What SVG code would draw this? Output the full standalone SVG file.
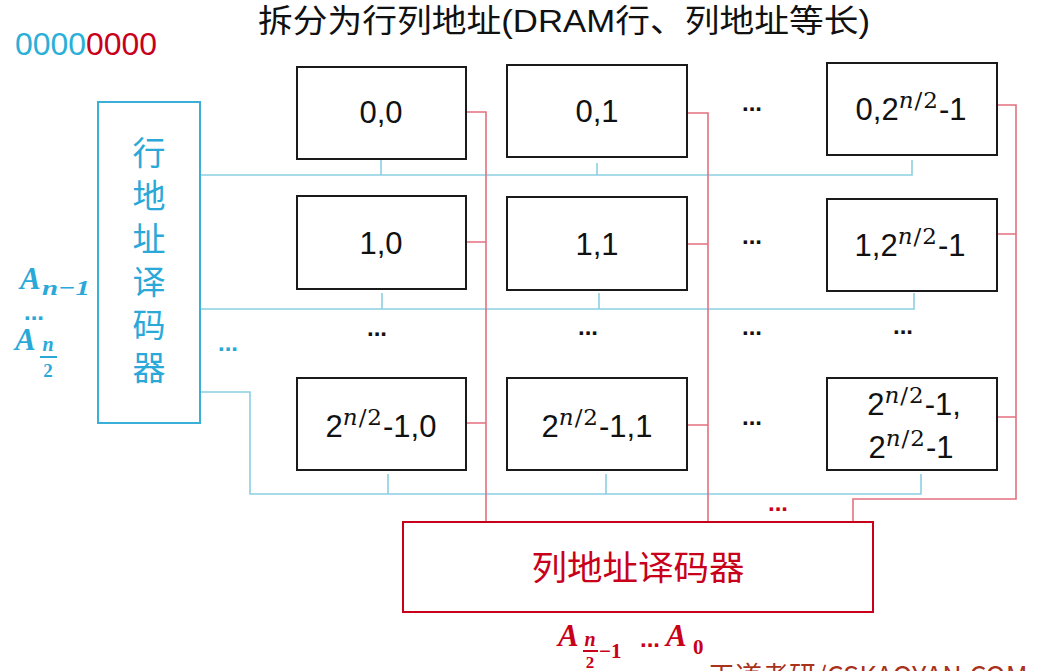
<svg xmlns="http://www.w3.org/2000/svg" width="1042" height="671" viewBox="0 0 1042 671">
<style>
.cell{fill:#fff;stroke:#1a1a1a;stroke-width:2}
.lbl{font-family:"Liberation Sans",Arial,sans-serif;font-size:31px;fill:#111;text-anchor:middle}
.sup{font-family:"DejaVu Serif",serif;font-size:23px;letter-spacing:1px}
.it{font-style:italic}
.dots{font-family:"Liberation Sans",Arial,sans-serif;font-size:24px;font-weight:bold;text-anchor:middle}
.cjk{font-family:"Noto Sans CJK SC",sans-serif}
.bl{fill:none;stroke:#8ccfe2;stroke-width:1.6}
.rd{fill:none;stroke:#e3707f;stroke-width:1.6}
.math{font-family:"Liberation Serif",serif;font-style:italic;font-weight:bold}
</style>
<rect width="1042" height="671" fill="#fff"/>

<text x="258" y="32" font-family="Liberation Sans,Noto Sans CJK SC,sans-serif" font-size="32" fill="#111" textLength="612" lengthAdjust="spacingAndGlyphs">拆分为行列地址(DRAM行、列地址等长)</text>
<text x="15" y="55" font-family="Liberation Sans,Arial,sans-serif" font-size="31" textLength="142" lengthAdjust="spacingAndGlyphs"><tspan fill="#2aafd8">0000</tspan><tspan fill="#c8001a">0000</tspan></text>

<g id="connectors">
  <path class="bl" d="M200,175 H912 V160 M381,159 V175 M597,163 V175"/>
  <path class="bl" d="M200,309 H914 V293 M382,293 V309 M599,293 V309"/>
  <path class="bl" d="M200,392 H250 V494 H921 V474 M388,474 V494 M606,474 V494"/>
  <path class="rd" d="M466,112 H486 V522 M466,242 H486 M466,423 H486"/>
  <path class="rd" d="M687,113 H708 V522 M687,244 H708 M687,425 H708"/>
  <path class="rd" d="M997,105 H1016 V499 H853 V522 M997,234 H1016 M997,417 H1016"/>
</g>

<g id="row-decoder">
  <rect x="98" y="102" width="102" height="321" fill="none" stroke="#3ab0d8" stroke-width="2"/>
  <text x="149" y="136" class="cjk" font-size="33" fill="#2aa8d8" writing-mode="tb" letter-spacing="10">行地址译码器</text>
</g>

<g id="row-addr" fill="#2aa8d8">
  <text x="20" y="289" class="math" font-size="31">A</text>
  <text x="42" y="295" class="math" font-size="22" textLength="48" lengthAdjust="spacingAndGlyphs">n−1</text>
  <text x="34" y="320" class="dots" font-size="18" style="fill:#2aa8d8">...</text>
  <text x="15" y="350" class="math" font-size="31">A</text>
  <text x="48" y="351" class="math" font-size="20" text-anchor="middle">n</text>
  <line x1="40" y1="357" x2="57" y2="357" stroke="#2aa8d8" stroke-width="2"/>
  <text x="48" y="377" font-family="Liberation Serif,serif" font-weight="bold" font-size="19" text-anchor="middle">2</text>
</g>
<text x="228" y="351" class="dots" style="fill:#2aa8d8">...</text>

<g id="cell-0-0"><rect class="cell" x="297" y="67" width="169" height="92"/><text class="lbl" x="381" y="123">0,0</text></g>
<g id="cell-0-1"><rect class="cell" x="507" y="65" width="180" height="92"/><text class="lbl" x="597" y="122">0,1</text></g>
<g id="cell-0-n"><rect class="cell" x="827" y="63" width="170" height="92"/><text class="lbl" x="911" y="120">0,2<tspan class="sup" dy="-12"><tspan class="it">n</tspan>/2</tspan><tspan dy="12">-1</tspan></text></g>

<g id="cell-1-0"><rect class="cell" x="297" y="196" width="169" height="93"/><text class="lbl" x="381" y="254">1,0</text></g>
<g id="cell-1-1"><rect class="cell" x="507" y="197" width="180" height="93"/><text class="lbl" x="597" y="255">1,1</text></g>
<g id="cell-1-n"><rect class="cell" x="827" y="199" width="170" height="92"/><text class="lbl" x="910" y="256">1,2<tspan class="sup" dy="-12"><tspan class="it">n</tspan>/2</tspan><tspan dy="12">-1</tspan></text></g>

<g id="cell-n-0"><rect class="cell" x="297" y="378" width="169" height="92"/><text class="lbl" x="381" y="437">2<tspan class="sup" dy="-12"><tspan class="it">n</tspan>/2</tspan><tspan dy="12">-1,0</tspan></text></g>
<g id="cell-n-1"><rect class="cell" x="507" y="378" width="180" height="92"/><text class="lbl" x="597" y="437">2<tspan class="sup" dy="-12"><tspan class="it">n</tspan>/2</tspan><tspan dy="12">-1,1</tspan></text></g>
<g id="cell-n-n"><rect class="cell" x="827" y="378" width="170" height="92"/>
  <text class="lbl" x="914" y="415">2<tspan class="sup" dy="-12"><tspan class="it">n</tspan>/2</tspan><tspan dy="12">-1,</tspan></text>
  <text class="lbl" x="911" y="458">2<tspan class="sup" dy="-12"><tspan class="it">n</tspan>/2</tspan><tspan dy="12">-1</tspan></text>
</g>

<g id="ellipses">
  <text class="dots" x="752" y="111" style="fill:#111">...</text>
  <text class="dots" x="752" y="244" style="fill:#111">...</text>
  <text class="dots" x="752" y="425" style="fill:#111">...</text>
  <text class="dots" x="377" y="336" style="fill:#111">...</text>
  <text class="dots" x="588" y="335" style="fill:#111">...</text>
  <text class="dots" x="752" y="335" style="fill:#111">...</text>
  <text class="dots" x="903" y="334" style="fill:#111">...</text>
  <text class="dots" x="778" y="511" style="fill:#c8001a">...</text>
</g>

<g id="col-decoder">
  <rect x="403" y="522" width="470" height="90" fill="none" stroke="#c8001a" stroke-width="2"/>
  <text x="638" y="580" class="cjk" font-size="34" fill="#c8001a" text-anchor="middle" textLength="213" lengthAdjust="spacingAndGlyphs">列地址译码器</text>
</g>

<g id="col-addr" fill="#c8001a">
  <text x="558" y="646" class="math" font-size="31">A</text>
  <text x="590" y="646" class="math" font-size="20" text-anchor="middle">n</text>
  <line x1="583" y1="651" x2="598" y2="651" stroke="#c8001a" stroke-width="2"/>
  <text x="590" y="668" font-family="Liberation Serif,serif" font-weight="bold" font-size="17" text-anchor="middle">2</text>
  <text x="599" y="658" font-family="Liberation Serif,serif" font-weight="bold" font-size="21">−1</text>
  <text x="650" y="647" class="dots" style="fill:#c8001a">...</text>
  <text x="666" y="646" class="math" font-size="31">A</text>
  <text x="693" y="654" font-family="Liberation Serif,serif" font-weight="bold" font-size="21">0</text>
</g>

<text x="708" y="686" class="cjk" font-size="27" fill="#a8321c">王道考研/CSKAOYAN.COM</text>
</svg>
